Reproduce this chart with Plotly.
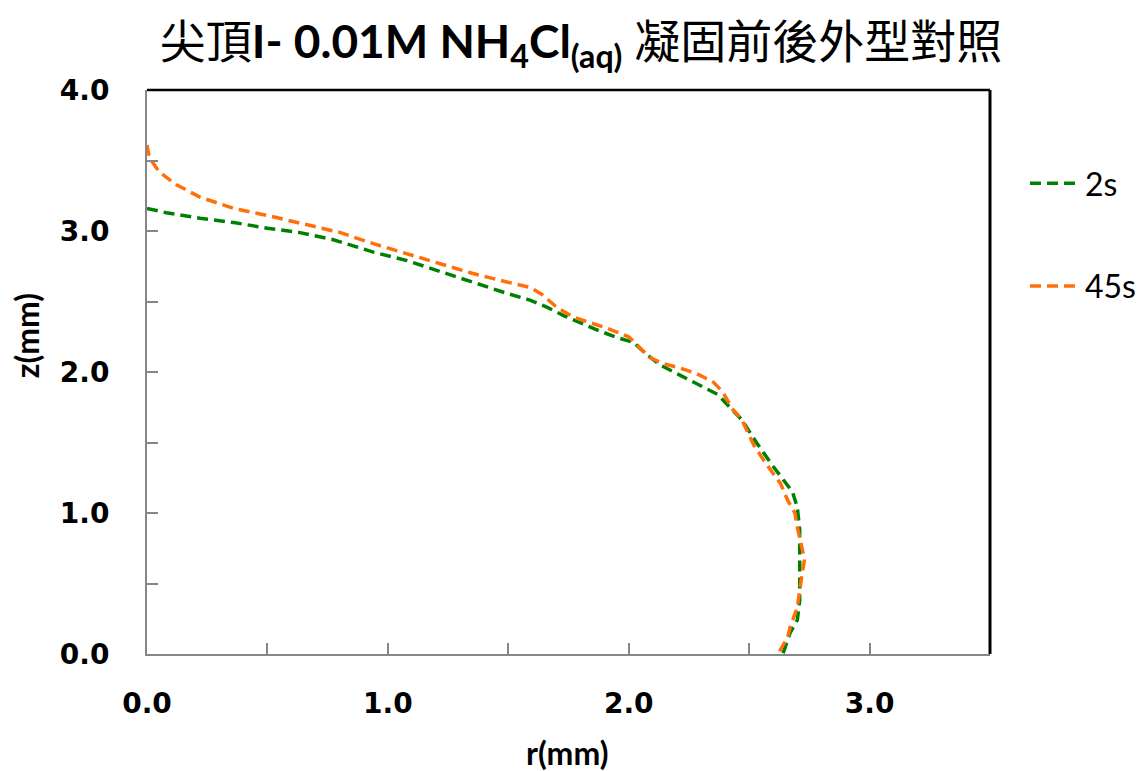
import plotly.graph_objects as go

# profile at 2 s (before solidification)
r_2s = [0.00, 0.08, 0.22, 0.36, 0.50, 0.63, 0.77, 0.94, 1.08, 1.22, 1.35, 1.49,
        1.59, 1.66, 1.73, 1.80, 1.88, 1.96, 2.02, 2.07, 2.13, 2.21, 2.29, 2.37,
        2.42, 2.47, 2.53, 2.60, 2.68, 2.70, 2.71, 2.71, 2.71, 2.71, 2.70, 2.67, 2.64]
z_2s = [3.16, 3.13, 3.09, 3.06, 3.02, 2.99, 2.94, 2.85, 2.79, 2.71, 2.64, 2.56,
        2.51, 2.46, 2.40, 2.35, 2.29, 2.24, 2.21, 2.13, 2.05, 1.98, 1.91, 1.84,
        1.75, 1.66, 1.50, 1.33, 1.15, 1.04, 0.88, 0.72, 0.55, 0.38, 0.24, 0.15, 0.00]

# profile at 45 s (after solidification)
r_45s = [0.00, 0.01, 0.05, 0.12, 0.22, 0.36, 0.50, 0.63, 0.80, 0.94, 1.08, 1.22,
         1.35, 1.49, 1.59, 1.64, 1.70, 1.77, 1.91, 2.00, 2.04, 2.09, 2.14, 2.21,
         2.28, 2.35, 2.39, 2.43, 2.47, 2.52, 2.57, 2.63, 2.66, 2.69, 2.70, 2.72,
         2.73, 2.72, 2.71, 2.70, 2.67, 2.66, 2.62]
z_45s = [3.61, 3.52, 3.42, 3.33, 3.24, 3.16, 3.11, 3.06, 2.99, 2.91, 2.84, 2.77,
         2.70, 2.64, 2.60, 2.55, 2.46, 2.39, 2.31, 2.25, 2.18, 2.10, 2.06, 2.03,
         1.99, 1.93, 1.86, 1.74, 1.66, 1.48, 1.35, 1.21, 1.09, 1.00, 0.90, 0.76,
         0.67, 0.57, 0.43, 0.33, 0.19, 0.12, 0.00]

x_ticks = [0, 1, 2, 3]
x_labels = ["0.0", "1.0", "2.0", "3.0"]
y_ticks = [0, 1, 2, 3, 4]
y_labels = ["0.0", "1.0", "2.0", "3.0", "4.0"]

fig = go.Figure()
fig.add_trace(go.Scatter(x=r_2s, y=z_2s, mode="lines", name="2s", legendgroup="a",
                         line=dict(color="#008000", width=3.5, dash="11px,6px")))
fig.add_trace(go.Scatter(x=r_45s, y=z_45s, mode="lines", name="45s", legendgroup="b",
                         line=dict(color="#FF6F0A", width=3.5, dash="11px,6px")))

axis_common = dict(
    showgrid=False, zeroline=False, showline=True, linecolor="#868686", linewidth=2,
    ticks="inside", ticklen=11, tickwidth=2, tickcolor="#868686",
    tickfont=dict(family="DejaVu Sans", size=28, color="black", weight="bold"),
    minor=dict(dtick=0.5, ticks="inside", ticklen=11, tickwidth=2, tickcolor="#868686"),
)
fig.update_xaxes(range=[0, 3.5], tickvals=x_ticks, ticktext=x_labels,
                 ticklabelstandoff=23, **axis_common)
fig.update_yaxes(range=[0, 4], tickvals=y_ticks, ticktext=y_labels,
                 ticklabelstandoff=30, **axis_common)

# black top/right frame
fig.add_shape(type="line", xref="x domain", yref="y domain", x0=0, x1=1, y0=1, y1=1,
              line=dict(color="black", width=2.5))
fig.add_shape(type="line", xref="x domain", yref="y domain", x0=1, x1=1, y0=0, y1=1,
              line=dict(color="black", width=3))

fig.update_layout(
    width=1146, height=771,
    margin=dict(l=147, r=156, t=90, b=117, autoexpand=False),
    paper_bgcolor="white", plot_bgcolor="white",
    title=dict(
        text="尖頂<b>I- 0.01M NH<sub>4</sub>Cl<sub>(aq)</sub></b> 凝固前後外型對照",
        x=0.507, xanchor="center", y=0.9455, yanchor="middle",
        font=dict(family="Lato, Noto Sans CJK TC", size=46, color="black"),
    ),
    legend=dict(
        x=1.0415, xanchor="left", y=0.883, yanchor="top",
        font=dict(family="Lato", size=32, color="black"),
        tracegroupgap=58, itemwidth=50, bgcolor="rgba(0,0,0,0)",
    ),
    annotations=[
        dict(text="<b>r(mm)</b>", xref="paper", yref="paper", x=0.498, y=-0.174,
             xanchor="center", yanchor="middle", showarrow=False,
             font=dict(family="Lato", size=32, color="black")),
        dict(text="<b>z(mm)</b>", xref="paper", yref="paper", x=-0.142, y=0.564,
             xanchor="center", yanchor="middle", showarrow=False, textangle=-90,
             font=dict(family="Lato", size=32, color="black")),
    ],
)

fig.write_html("out.html", config={"displayModeBar": False},
               post_script="document.body.style.margin='0';")
